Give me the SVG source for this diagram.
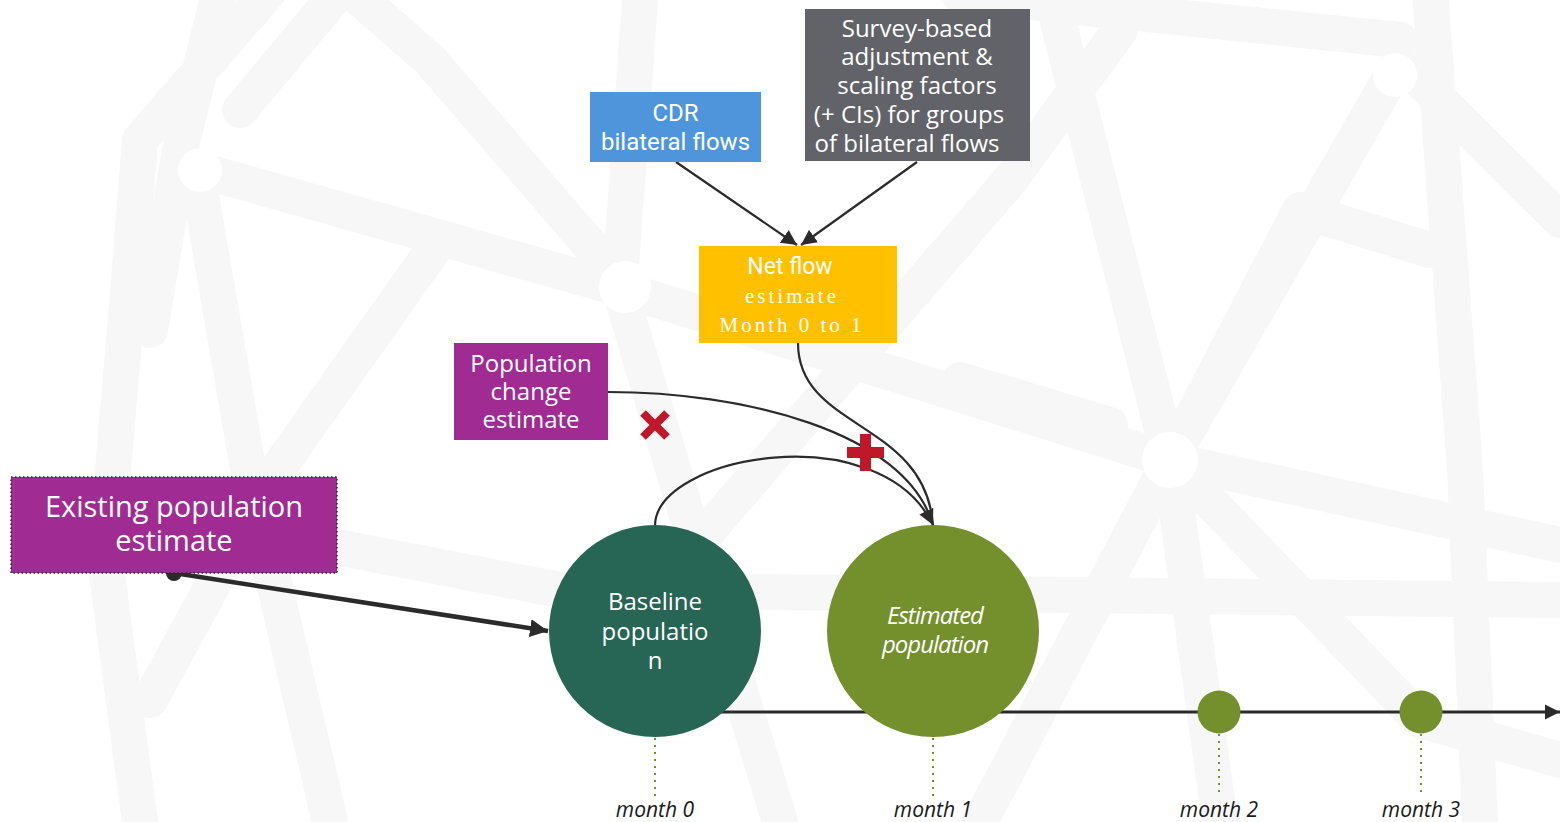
<svg xmlns="http://www.w3.org/2000/svg" width="1560" height="822" viewBox="0 0 1560 822">
<defs>
<style>
.bg{fill:none;stroke:#f7f7f7;stroke-width:36;stroke-linecap:round;stroke-linejoin:round}
.os{font-family:"Open Sans","DejaVu Sans",sans-serif;fill:#fff;text-anchor:middle}
.rb{font-family:Roboto,"Liberation Sans",sans-serif;fill:#fff;text-anchor:middle}
.sf{font-family:"Liberation Serif","Times New Roman",serif;fill:#fff;text-anchor:middle;letter-spacing:3px}
.mo{font-family:"Open Sans","DejaVu Sans",sans-serif;font-style:italic;font-size:21px;fill:#1a1a1a;text-anchor:middle}
.con{fill:none;stroke:#2b2b2b;stroke-width:2.2}
.tick{stroke:#73902c;stroke-width:2;stroke-dasharray:2 5}
</style>
<marker id="ah" viewBox="0 0 10 10" refX="10" refY="5" markerWidth="7" markerHeight="7" orient="auto" markerUnits="strokeWidth">
<path d="M0,0 L10,5 L0,10 z" fill="#2b2b2b"/>
</marker>
<marker id="ahs" viewBox="0 0 10 10" refX="10" refY="5" markerWidth="4" markerHeight="4" orient="auto" markerUnits="strokeWidth">
<path d="M0,0 L10,5 L0,10 z" fill="#2b2b2b"/>
</marker>
<marker id="aht" viewBox="0 0 10 10" refX="10" refY="5" markerWidth="5.5" markerHeight="5.5" orient="auto" markerUnits="strokeWidth">
<path d="M0,0 L10,5 L0,10 z" fill="#2b2b2b"/>
</marker>
</defs>
<rect width="1560" height="822" fill="#fff"/>
<g id="background">
<path class="bg" d="M270,-10 L140,140 L125,330 L105,560 L140,822"/>
<path class="bg" d="M220,-10 L180,150 L150,330"/>
<path class="bg" d="M340,-10 L240,110"/>
<path class="bg" d="M200,170 L625,290 L1170,460 L1560,545"/>
<path class="bg" d="M200,190 L250,480 L330,822"/>
<path class="bg" d="M440,240 L270,480 L150,700"/>
<path class="bg" d="M620,280 L640,0"/>
<path class="bg" d="M620,290 L700,560 L780,822"/>
<path class="bg" d="M350,-10 L430,60 L620,280"/>
<path class="bg" d="M960,-5 L1400,40"/>
<path class="bg" d="M1050,-10 L1170,460 L1220,822"/>
<path class="bg" d="M1395,70 L1170,460 L980,822"/>
<path class="bg" d="M1430,-10 L1465,470 L1480,822"/>
<path class="bg" d="M1400,60 L1560,220"/>
<path class="bg" d="M960,380 L1110,425"/>
<path class="bg" d="M1170,460 L1300,210 L1430,250"/>
<path class="bg" d="M300,540 L560,590 L1560,600"/>
<path class="bg" d="M700,540 L1010,180 L1120,30"/>
<path class="bg" d="M1170,460 L1420,720 L1560,760"/>
<circle cx="200" cy="170" r="22" fill="#fff"/>
<circle cx="625" cy="287" r="26" fill="#fff"/>
<circle cx="1170" cy="460" r="28" fill="#fff"/>
<circle cx="1395" cy="75" r="22" fill="#fff"/>
</g>
<g id="connectors">
<path class="con" d="M676,162 L797,245" marker-end="url(#ah)"/>
<path class="con" d="M917,162 L801,245" marker-end="url(#ah)"/>
<path class="con" d="M798,343 C798,430 925,420 933,525"/>
<path class="con" d="M608,392 C740,392 905,430 933,525"/>
<path class="con" d="M655,526 C655,455 880,415 933,525" marker-end="url(#ah)"/>
<path d="M174,573 L548,631" fill="none" stroke="#2b2b2b" stroke-width="4.5" marker-end="url(#ahs)"/>
<circle cx="174" cy="573" r="8" fill="#2b2b2b"/>
<path d="M720,712 L1560,712" fill="none" stroke="#2b2b2b" stroke-width="2.8" marker-end="url(#aht)"/>
<line class="tick" x1="655" y1="738" x2="655" y2="797"/>
<line class="tick" x1="933" y1="738" x2="933" y2="797"/>
<line class="tick" x1="1219" y1="734" x2="1219" y2="797"/>
<line class="tick" x1="1421" y1="734" x2="1421" y2="797"/>
</g>
<g id="cdr">
<rect x="590" y="92" width="171" height="70" fill="#4f95dc"/>
<text class="rb" font-size="24" x="675.5" y="121">CDR</text>
<text class="rb" font-size="24" x="675.5" y="150">bilateral flows</text>
</g>
<g id="survey">
<rect x="805" y="9" width="225" height="152" fill="#616368"/>
<text class="os" font-size="24" x="917" y="37">Survey-based</text>
<text class="os" font-size="24" x="917" y="65">adjustment &amp;</text>
<text class="os" font-size="24" x="917" y="94">scaling factors</text>
<text class="os" font-size="24" x="909" y="123">(+ CIs) for groups</text>
<text class="os" font-size="24" x="907" y="152">of bilateral flows</text>
</g>
<g id="netflow">
<rect x="699" y="246" width="198" height="97" fill="#ffc000"/>
<text class="rb" font-size="23" x="790" y="274">Net flow</text>
<text class="sf" font-size="21" x="792" y="303">estimate</text>
<text class="sf" font-size="21" x="792" y="332">Month 0 to 1</text>
</g>
<g id="popchange">
<rect x="454" y="343" width="154" height="97" fill="#a02b93"/>
<text class="os" font-size="24" x="531" y="372">Population</text>
<text class="os" font-size="24" x="531" y="400">change</text>
<text class="os" font-size="24" x="531" y="428">estimate</text>
</g>
<g id="existing">
<rect x="11" y="477" width="326" height="96" fill="#a02b93" stroke="#2b2b2b" stroke-width="1.5" stroke-dasharray="1.5 2.5"/>
<text class="os" font-size="29" x="174" y="517">Existing population</text>
<text class="os" font-size="29" x="174" y="551">estimate</text>
</g>
<g id="marks">
<path d="M643,413 L667,437 M667,413 L643,437" stroke="#c0182a" stroke-width="8"/>
<path d="M865.5,434 L865.5,471 M847,452.5 L884,452.5" stroke="#c0182a" stroke-width="11"/>
</g>
<g id="baseline">
<circle cx="655" cy="631" r="106" fill="#276554"/>
<text class="os" font-size="24" x="655" y="610">Baseline</text>
<text class="os" font-size="24" x="655" y="640">populatio</text>
<text class="os" font-size="24" x="655" y="669">n</text>
</g>
<g id="estimated">
<circle cx="933" cy="631" r="106" fill="#73902c"/>
<text class="os" font-size="24" font-style="italic" letter-spacing="-1" x="935" y="624">Estimated</text>
<text class="os" font-size="24" font-style="italic" letter-spacing="-1" x="935" y="653">population</text>
</g>
<g id="month2dot"><circle cx="1219" cy="712" r="21.5" fill="#73902c"/></g>
<g id="month3dot"><circle cx="1421" cy="712" r="21.5" fill="#73902c"/></g>
<g id="labels">
<text class="mo" x="655" y="817">month 0</text>
<text class="mo" x="933" y="817">month 1</text>
<text class="mo" x="1219" y="817">month 2</text>
<text class="mo" x="1421" y="817">month 3</text>
</g>
</svg>
